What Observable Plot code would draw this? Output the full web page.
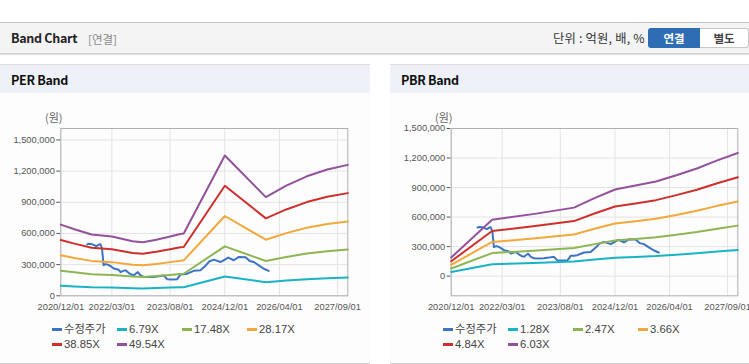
<!DOCTYPE html>
<html><head><meta charset="utf-8">
<script src="https://cdn.jsdelivr.net/npm/d3@7"></script>
<script src="https://cdn.jsdelivr.net/npm/@observablehq/plot@0.6"></script>
<style>
html,body{margin:0;padding:0}
body{width:749px;height:364px;overflow:hidden;background:#fff;position:relative;font-family:"Liberation Sans","Noto Sans CJK KR",sans-serif;color:#222}
.abs{position:absolute}
#hdr{left:0;top:22px;width:749px;height:30px;background:#f4f4f4;border-top:1px solid #c2c2c2;border-bottom:1px solid #cfcfcf;box-shadow:0 1px 1px #e2e2e2}
.htitle{left:11px;top:30px;font-size:12.5px;font-weight:bold;line-height:16px;font-family:"Noto Sans CJK KR","Liberation Sans",sans-serif;letter-spacing:-0.3px}
.hsub{left:88px;top:31px;font-size:11.5px;line-height:16px;color:#8a8a8a;font-family:"Noto Sans CJK KR",sans-serif}
.unit{left:553px;top:30px;font-size:12.3px;line-height:16px;color:#333;font-family:"Noto Sans CJK KR",sans-serif;letter-spacing:0.2px}
.btn1{left:648px;top:28px;width:52px;height:20px;background:#2e6db3;border-radius:3px 0 0 3px;color:#fff;font-weight:bold;font-size:11.5px;line-height:20px;text-align:center;font-family:"Noto Sans CJK KR",sans-serif}
.btn2{left:700px;top:28px;width:48px;height:18px;background:#fff;border:1px solid #c8c8c8;border-left:none;border-radius:0 3px 3px 0;color:#444;font-weight:bold;font-size:11.5px;line-height:18px;text-align:center;font-family:"Noto Sans CJK KR",sans-serif}
.panel{top:64px;height:298px;border-top:1px solid #dcdcdc;border-bottom:1px solid #cfcfcf;background:#fdfdfd}
.ptitle{left:0;top:0;right:0;height:28px;background:#eef2f8}
.ptitle span{position:absolute;left:11px;top:7px;font-size:12.5px;font-weight:bold;line-height:16px;font-family:"Noto Sans CJK KR","Liberation Sans",sans-serif;letter-spacing:-0.3px;color:#111}
.unitlbl{font-size:11px;color:#666;line-height:14px;font-family:"Noto Sans CJK KR",sans-serif}
.leg{font-size:11.3px;color:#444;line-height:14px;white-space:nowrap;display:flex;align-items:center}
.leg i{display:inline-block;width:10px;height:3px;margin-right:2px}
</style></head><body>
<div id="hdr" class="abs"></div>
<div class="abs htitle">Band Chart</div>
<div class="abs hsub">[연결]</div>
<div class="abs unit">단위 : 억원, 배, %</div>
<div class="abs btn1">연결</div>
<div class="abs btn2">별도</div>

<div class="abs panel" style="left:0;width:370px"><div class="abs ptitle"><span>PER Band</span></div></div>
<div class="abs panel" style="left:390px;width:359px"><div class="abs ptitle"><span>PBR Band</span></div></div>

<div class="abs unitlbl" style="left:45px;top:110px">(원)</div>
<div class="abs unitlbl" style="left:435px;top:110px">(원)</div>

<div id="perChart" class="abs" style="left:0;top:120px"></div>
<div id="pbrChart" class="abs" style="left:390px;top:120px"></div>
<div id="perLeg" class="abs" style="left:52px;top:322px;width:300px"></div>
<div id="pbrLeg" class="abs" style="left:443px;top:322px;width:300px"></div>

<script>
// ---------- data ----------
const xTickLabels = ["2020/12/01","2022/03/01","2023/08/01","2024/12/01","2026/04/01","2027/09/01"];
const yTicks = [0, 300000, 600000, 900000, 1200000, 1500000];

const priceDates = ["2021-07-23","2021-08-13","2021-09-03","2021-09-24","2021-10-15","2021-11-05","2021-11-19","2021-12-03","2021-12-17","2022-01-07","2022-01-28","2022-02-25","2022-03-18","2022-04-15","2022-05-01","2022-05-17","2022-06-10","2022-06-30","2022-07-30","2022-08-20","2022-09-12","2022-10-01","2022-10-18","2022-11-11","2022-12-10","2023-01-20","2023-03-09","2023-04-20","2023-06-06","2023-07-06","2023-08-20","2023-10-04","2023-11-02","2023-12-01","2024-01-01","2024-02-28","2024-04-28","2024-06-12","2024-07-15","2024-08-24","2024-10-23","2024-12-31","2025-02-19","2025-04-04","2025-06-03","2025-07-11","2025-08-16","2025-09-29","2025-11-13","2025-12-26"];
const priceValues = [495000,500000,497000,488000,477000,493000,496000,455000,295000,305000,298000,280000,262000,255000,250000,228000,240000,245000,219000,205000,196000,215000,228000,196000,182000,180000,182000,188000,196000,160000,158000,160000,206000,208000,213000,240000,245000,290000,330000,348000,325000,368000,342000,374000,372000,335000,325000,293000,260000,240000];

const perDates = ["2020-12-01","2021-04-01","2021-09-01","2022-03-01","2022-09-01","2022-12-01","2023-04-01","2023-08-01","2023-11-01","2023-12-01","2024-12-01","2025-12-01","2026-06-01","2026-12-01","2027-06-01","2027-12-01"];
const per679  = [96000,89000,82000,79000,73000,71000,74000,79000,82000,83000,186000,131000,147000,160000,169000,176000];
const per1748 = [242000,226000,208000,201000,185000,182000,191000,201000,210000,212000,476000,335000,374000,406000,429000,445000];
const per2817 = [390000,364000,336000,324000,299000,293000,307000,324000,338000,341000,768000,540000,603000,654000,691000,716000];
const per3885 = [537000,502000,463000,447000,412000,404000,423000,447000,467000,470000,1059000,745000,831000,902000,953000,988000];
const per4954 = [685000,640000,590000,570000,525000,515000,540000,570000,595000,600000,1350000,950000,1060000,1150000,1215000,1260000];

const pbrDates = ["2020-12-01","2021-12-01","2022-12-01","2023-12-01","2024-06-01","2024-12-01","2025-06-01","2025-12-01","2026-06-01","2026-12-01","2027-06-01","2027-12-01"];
const pbr128 = [42000,121000,134000,148000,168000,187000,195000,204000,218000,232000,250000,266000];
const pbr247 = [77000,234000,258000,285000,325000,361000,377000,394000,420000,448000,482000,513000];
const pbr366 = [115000,347000,382000,423000,481000,534000,558000,584000,622000,664000,714000,759000];
const pbr484 = [151000,459000,506000,559000,636000,707000,738000,772000,823000,878000,944000,1004000];
const pbr603 = [189000,572000,630000,696000,793000,880000,920000,962000,1025000,1094000,1176000,1251000];

const priceName = "수정주가";
const perNames = ["6.79X","17.48X","28.17X","38.85X","49.54X"];
const pbrNames = ["1.28X","2.47X","3.66X","4.84X","6.03X"];
const colors = ["#3b74c3","#1ab3c5","#8db553","#f3a83b","#cf2f2c","#94519b"];

// ---------- build ----------
const parse = d3.utcParse("%Y-%m-%d");
const xTicks = xTickLabels.map(d3.utcParse("%Y/%m/%d"));
const xDomain = [parse("2020-12-01"), parse("2027-12-01")];

function rows(dates, values, name) {
  return dates.map((d, i) => ({date: parse(d), value: values[i], name}));
}

function chart({width, marginLeft, marginRight, yDomain, bands, names}) {
  const allNames = [priceName, ...names];
  const priceRows = rows(priceDates, priceValues, priceName);
  const bandRows = bands.flatMap((b, i) => rows(b.dates, b.values, names[i]));
  return Plot.plot({
    width, height: 200,
    marginTop: 8, marginBottom: 24.7, marginLeft, marginRight,
    style: {fontFamily: '"Liberation Sans", sans-serif', fontSize: "9.3px", color: "#555", background: "transparent", overflow: "visible"},
    x: {type: "utc", domain: xDomain, ticks: xTicks, tickFormat: d3.utcFormat("%Y/%m/%d"), tickSize: 0, tickPadding: 8, label: null},
    y: {domain: yDomain, ticks: yTicks, tickFormat: d3.format(","), tickSize: 4, tickPadding: 2, label: null},
    color: {domain: allNames, range: colors},
    marks: [
      Plot.gridX(xTicks, {stroke: "#e4e4e4", strokeOpacity: 1}),
      Plot.gridY(yTicks, {stroke: "#e4e4e4", strokeOpacity: 1}),
      Plot.frame({stroke: "#b0b0b0"}),
      Plot.line(priceRows, {x: "date", y: "value", stroke: "name", strokeWidth: 2}),
      Plot.line(bandRows, {x: "date", y: "value", z: "name", stroke: "name", strokeWidth: 2})
    ]
  });
}

document.getElementById("perChart").append(chart({
  width: 370, marginLeft: 60.3, marginRight: 22.7, yDomain: [0, 1610000], names: perNames,
  bands: [per679, per1748, per2817, per3885, per4954].map(v => ({dates: perDates, values: v}))
}));
document.getElementById("pbrChart").append(chart({
  width: 359, marginLeft: 60.7, marginRight: 11.7, yDomain: [-200000, 1500000], names: pbrNames,
  bands: [pbr128, pbr247, pbr366, pbr484, pbr603].map(v => ({dates: pbrDates, values: v}))
}));

function legend(el, names) {
  const all = [priceName, ...names];
  el.innerHTML = "";
  el.style.display = "grid";
  el.style.gridTemplateColumns = "65px 65px 65px 65px";
  el.style.rowGap = "1px";
  all.forEach((n, i) => {
    const d = document.createElement("div");
    d.className = "leg";
    d.innerHTML = `<i style="background:${colors[i]}"></i>${n}`;
    el.append(d);
  });
}
legend(document.getElementById("perLeg"), perNames);
legend(document.getElementById("pbrLeg"), pbrNames);
</script>
</body></html>
